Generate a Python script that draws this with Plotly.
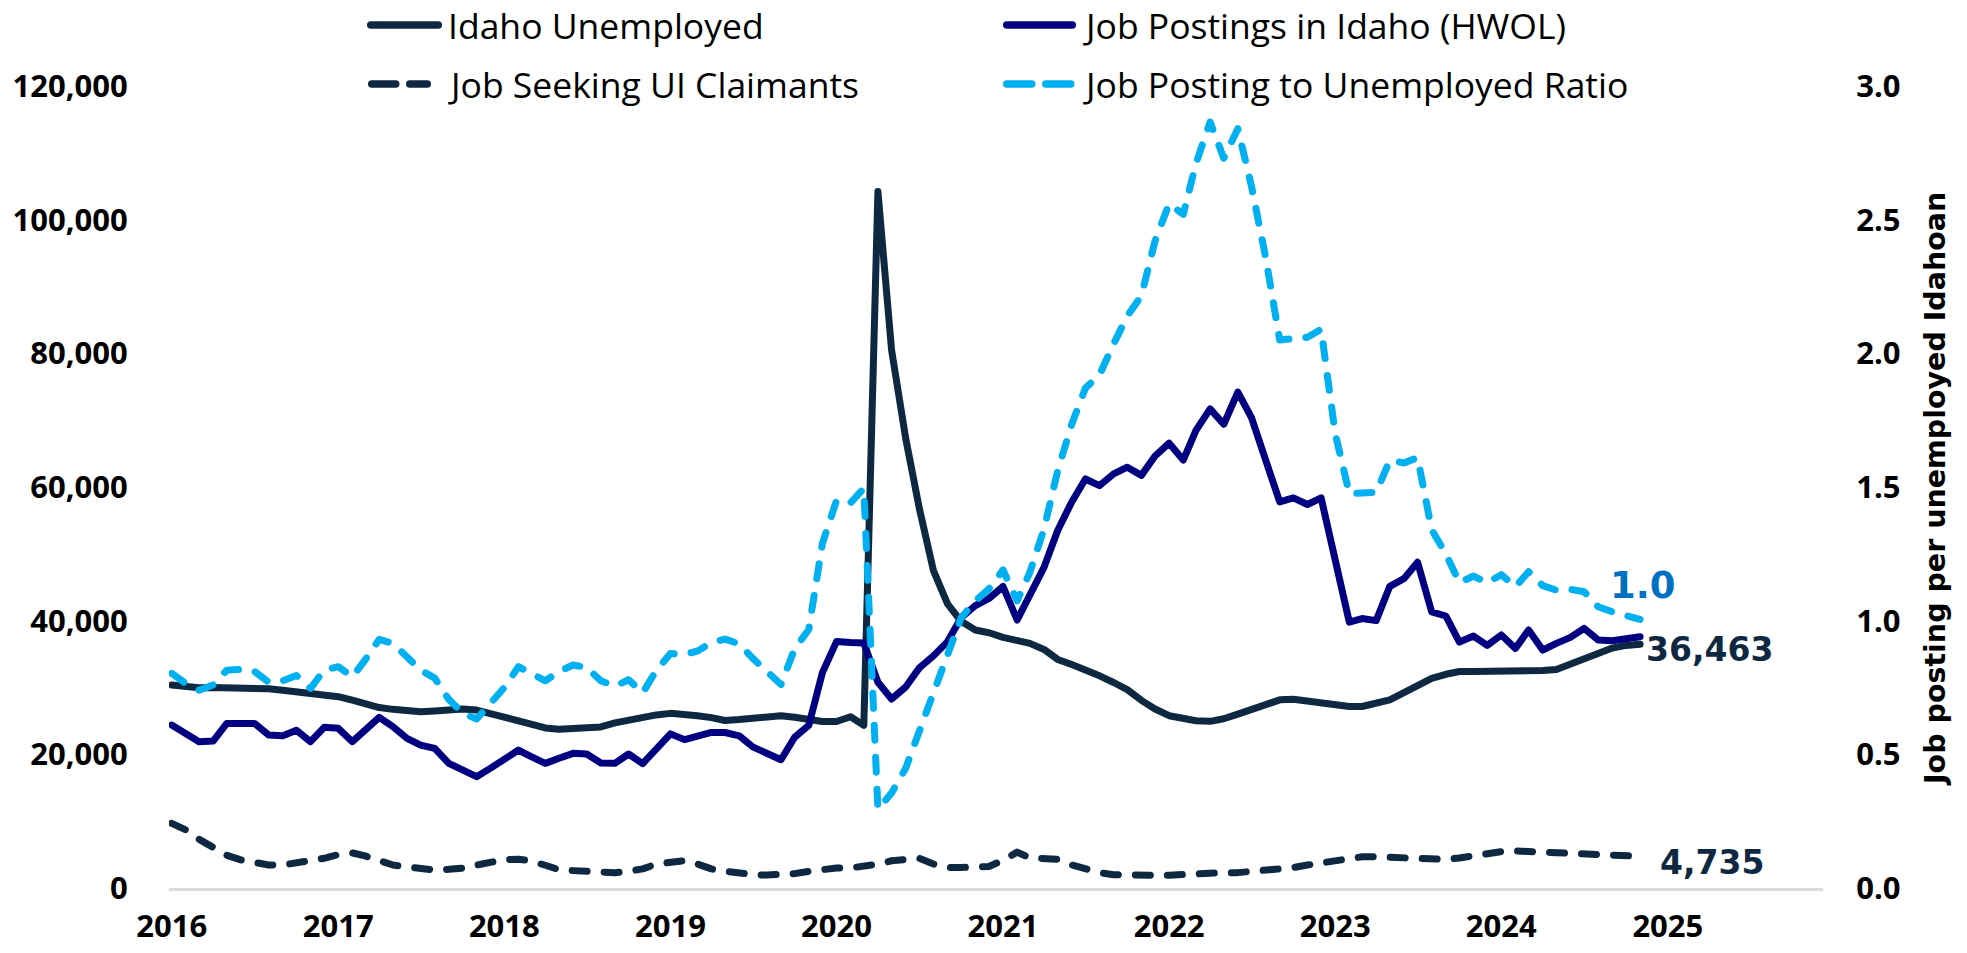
import plotly.graph_objects as go
import pandas as pd

# ---------------- data (monthly, Jan 2016 - Nov 2024) ----------------
start_month = "2016-01-01"

idaho_unemployed = [
    30370, 30050, 29950, 29990, 29990, 29990, 29990, 29800, 29600, 29400,
    29220, 28850, 28620, 28100, 27500, 27000, 26730, 26450, 26380, 26500,
    26750, 26800, 26630, 26100, 25500, 24900, 24300, 23950, 23740, 23800,
    23890, 24100, 24700, 25100, 25630, 25900, 26130, 26060, 25780, 25490,
    25060, 25200, 25420, 25780, 25780, 25560, 25200, 24920, 24920, 25630,
    24340, 104200, 80500, 67300, 56800, 47500, 42500, 39900, 38600, 38200,
    37500, 37100, 36600, 35700, 34200, 33430, 32670, 31750, 30750, 29680,
    28080, 26780, 25780, 25250, 25020, 24940, 25320, 26010, 26780, 27540,
    28150, 28230, 27920, 27620, 27310, 27160, 27160, 27540, 28150, 29220,
    30370, 31370, 31980, 32400, 32400, 32400, 32450, 32500, 32500, 32550,
    32700, 33500, 34300, 35100, 35900, 36300, 36463]

job_postings = [
    24380, 23140, 21890, 21990, 24630, 24630, 24630, 22890, 22790, 23590,
    21890, 24040, 23890, 21890, 23740, 25530, 24140, 22390, 21390, 20890,
    18650, 17650, 16650, 17900, 19150, 20640, 19650, 18650, 19400, 20150,
    20050, 18700, 18650, 20050, 18620, 20760, 23060, 22200, 22770, 23270,
    23270, 22770, 21120, 20190, 19190, 22550, 24340, 32220, 36870, 36730,
    36660, 30790, 28280, 30070, 32940, 34730, 36870, 40450, 42240, 43320,
    45110, 40100, 44030, 47970, 53500, 57760, 61200, 60200, 61970, 62960,
    61740, 64640, 66560, 64030, 68470, 71680, 69390, 74210, 70380, 64260,
    57760, 58370, 57380, 58370, 48580, 39780, 40320, 40010, 45140, 46280,
    48730, 41310, 40700, 36800, 37700, 36300, 37860, 35850, 38600, 35600,
    36600, 37500, 38850, 37100, 37000, 37350, 37600]

ui_claimants = [
    9680, 8700, 7300, 6000, 4900, 4200, 3700, 3450, 3440, 3700,
    4000, 4440, 5000, 5250, 4800, 4100, 3440, 3150, 2900, 2700,
    2800, 2950, 3440, 3850, 4250, 4300, 4050, 3400, 2750, 2600,
    2450, 2300, 2290, 2500, 2860, 3580, 3940, 4080, 3580, 2860,
    2500, 2150, 2000, 1930, 1930, 2150, 2500, 2860, 3000, 3000,
    3220, 3580, 4080, 4300, 4440, 3580, 3080, 3080, 3080, 3220,
    4150, 5370, 4510, 4440, 4300, 3440, 2830, 2300, 1990, 1910,
    1760, 1910, 1910, 2070, 2070, 2140, 2300, 2300, 2450, 2600,
    2750, 3060, 3440, 3750, 4280, 4510, 4670, 4670, 4590, 4590,
    4440, 4280, 4280, 4500, 4900, 5150, 5450, 5540, 5440, 5290,
    5250, 5050, 4900, 4800, 4750, 4740, 4735]

posting_ratio = [
    0.803, 0.765, 0.740, 0.760, 0.815, 0.818, 0.810, 0.770, 0.775, 0.795,
    0.747, 0.815, 0.828, 0.790, 0.853, 0.930, 0.915, 0.862, 0.815, 0.785,
    0.705, 0.655, 0.632, 0.690, 0.750, 0.828, 0.805, 0.775, 0.810, 0.834,
    0.825, 0.775, 0.755, 0.779, 0.730, 0.814, 0.877, 0.874, 0.886, 0.918,
    0.931, 0.913, 0.859, 0.806, 0.761, 0.895, 0.967, 1.289, 1.450, 1.441,
    1.495, 0.295, 0.355, 0.448, 0.582, 0.734, 0.877, 1.011, 1.074, 1.119,
    1.190, 1.074, 1.181, 1.343, 1.560, 1.735, 1.870, 1.920, 2.035, 2.140,
    2.215, 2.420, 2.560, 2.520, 2.710, 2.865, 2.730, 2.840, 2.625, 2.360,
    2.050, 2.055, 2.060, 2.090, 1.700, 1.475, 1.480, 1.480, 1.600, 1.590,
    1.610, 1.340, 1.250, 1.142, 1.167, 1.142, 1.172, 1.127, 1.183, 1.131,
    1.114, 1.117, 1.108, 1.052, 1.033, 1.021, 1.005]

year_labels = ["2016", "2017", "2018", "2019", "2020",
               "2021", "2022", "2023", "2024", "2025"]
left_ticks = [0, 20000, 40000, 60000, 80000, 100000, 120000]
right_ticks = [0.0, 0.5, 1.0, 1.5, 2.0, 2.5, 3.0]

series_names = ["Idaho Unemployed", "Job Postings in Idaho (HWOL)",
                "Job Seeking UI Claimants", "Job Posting to Unemployed Ratio"]
right_title = "Job posting per unemployed Idahoan"

# ---------------- styling ----------------
C_UNEMP = "#0E2841"
C_POST = "#000080"
C_RATIO = "#00B0F0"
C_LABEL1 = "#0070C0"
LW = 7
DASH = "15px,17px"      # drawn with round caps -> ~22px dash / ~10px gap
LEG_LW = 7.5

W, H = 1967, 953
ML, MR, MT, MB = 169, 144, 86, 65
PW, PH = W - ML - MR, H - MT - MB


def px_x(px):
    return (px - ML) / PW


def px_y(py):
    return (H - MB - py) / PH


months = pd.date_range(start_month, periods=len(idaho_unemployed), freq="MS")

fig = go.Figure()
fig.add_trace(go.Scatter(x=months, y=idaho_unemployed, mode="lines",
                         name=series_names[0], showlegend=False,
                         line=dict(color=C_UNEMP, width=LW)))
fig.add_trace(go.Scatter(x=months, y=ui_claimants, mode="lines",
                         name=series_names[2], showlegend=False,
                         line=dict(color=C_UNEMP, width=LW, dash=DASH)))
fig.add_trace(go.Scatter(x=months, y=job_postings, mode="lines",
                         name=series_names[1], showlegend=False,
                         line=dict(color=C_POST, width=LW)))
fig.add_trace(go.Scatter(x=months, y=posting_ratio, mode="lines",
                         name=series_names[3], showlegend=False, yaxis="y2",
                         line=dict(color=C_RATIO, width=LW, dash=DASH)))

tick_font = dict(family="Open Sans", size=31, color="#000000", weight="bold")

fig.update_layout(
    width=W, height=H,
    margin=dict(l=ML, r=MR, t=MT, b=MB, pad=0),
    paper_bgcolor="white", plot_bgcolor="white",
    showlegend=False,
    xaxis=dict(type="date", range=["2015-12-26", "2025-12-08"],
               tickvals=[f"{y}-01-01" for y in year_labels], ticktext=year_labels,
               showgrid=False, zeroline=False, showline=True,
               linecolor="#D9D9D9", linewidth=2.5, automargin=False,
               ticks="outside", ticklen=9, tickcolor="rgba(0,0,0,0)",
               tickfont=tick_font),
    yaxis=dict(range=[0, 120000], tickvals=left_ticks, tickformat=",d",
               showgrid=False, zeroline=False, showline=False, automargin=False,
               ticks="outside", ticklen=34, tickcolor="rgba(0,0,0,0)",
               tickfont=tick_font),
    yaxis2=dict(range=[0, 3], tickvals=right_ticks, tickformat=".1f",
                overlaying="y", side="right", automargin=False,
                showgrid=False, zeroline=False, showline=False,
                ticks="outside", ticklen=26, tickcolor="rgba(0,0,0,0)",
                tickfont=tick_font),
)

# right axis title
fig.add_annotation(xref="paper", yref="paper", x=px_x(1936), y=px_y(489),
                   text=right_title, textangle=-90, showarrow=False,
                   xanchor="center", yanchor="middle",
                   font=dict(family="DejaVu Sans", size=28.5, color="#000000",
                             weight="bold"))

# end-of-line value labels
lab_font = dict(family="DejaVu Sans", size=33, weight="bold")
fig.add_annotation(x=months[-1], y=posting_ratio[-1], yref="y2",
                   text=f"{posting_ratio[-1]:.1f}", showarrow=False,
                   xanchor="center", yanchor="middle", xshift=3, yshift=34,
                   font=dict(lab_font, color=C_LABEL1, size=37))
fig.add_annotation(x=months[-1], y=idaho_unemployed[-1], yref="y",
                   text=f"{idaho_unemployed[-1]:,}", showarrow=False,
                   xanchor="left", yanchor="middle", xshift=4, yshift=-5,
                   font=dict(lab_font, color=C_UNEMP))
fig.add_annotation(x=months[-1], y=ui_claimants[-1], yref="y",
                   text=f"{ui_claimants[-1]:,}", showarrow=False,
                   xanchor="left", yanchor="middle", xshift=18, yshift=-6,
                   font=dict(lab_font, color=C_UNEMP))

# custom legend (two rows, two columns); endpoints inset for round caps
legend_items = [
    (series_names[0], C_UNEMP, "solid", 367, 442, 446, 25),
    (series_names[1], C_POST, "solid", 1003, 1076, 1081, 25),
    (series_names[2], C_UNEMP, "24px,14px", 368, 431, 446, 84),
    (series_names[3], C_RATIO, "25px,14px", 1003, 1076, 1081, 84),
]
cap = LEG_LW / 2
for name, col, dash, x0, x1, xt, yy in legend_items:
    fig.add_shape(type="line", xref="paper", yref="paper",
                  x0=px_x(x0 + cap), x1=px_x(x1 - cap), y0=px_y(yy), y1=px_y(yy),
                  line=dict(color=col, width=LEG_LW, dash=dash))
    fig.add_annotation(xref="paper", yref="paper", x=px_x(xt), y=px_y(yy),
                       text=name, showarrow=False, xanchor="left",
                       yanchor="middle",
                       font=dict(family="Open Sans", size=35.5, color="#000000"))

page_fix = """
document.body.style.margin = '0';
document.body.style.padding = '0';
document.documentElement.style.overflow = 'hidden';
document.querySelectorAll('.scatterlayer path.js-line, .shapelayer path').forEach(function(p){
  p.style.strokeLinecap = 'round';
  p.style.strokeLinejoin = 'round';
});
"""

fig.write_html("out.html", post_script=page_fix,
               config={"displayModeBar": False})
